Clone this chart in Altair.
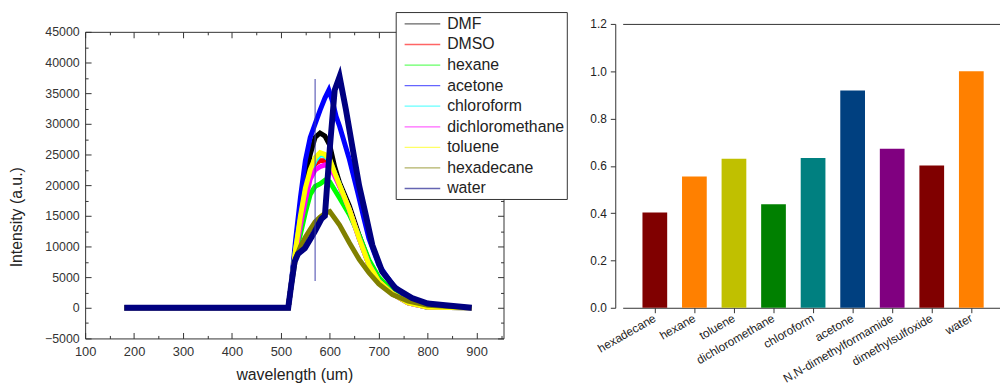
import altair as alt
import pandas as pd

# ---------------- left panel: emission spectra ----------------
series_names = ["DMF", "DMSO", "hexane", "acetone", "chloroform",
                "dichloromethane", "toluene", "hexadecane", "water"]
series_colors = ["#000000", "#FF0000", "#00FF00", "#0000FF", "#00FFFF",
                 "#FF00FF", "#FFFF00", "#808000", "#000080"]

wl_common = [180, 515, 520, 530, 540, 550, 560, 570, 580, 590, 600, 610,
             620, 640, 660, 680, 700, 728, 760, 800, 890]
dmf = [0, 0, 3000, 10000, 16000, 21000, 25000, 27800, 28500, 28000, 26500,
       23000, 20400, 16600, 11800, 7500, 4800, 2700, 1000, 200, 0]
dmso = [0, 0, 3000, 9200, 14000, 18500, 21800, 23500, 24000, 24000, 23500,
        21800, 19900, 16000, 11300, 7000, 4300, 2300, 800, 100, 0]
hexane = [0, 0, 3000, 8800, 12000, 15500, 18500, 19800, 20200, 20800, 20500,
          19200, 17900, 15200, 11800, 7800, 5000, 2600, 900, 100, 0]
chloroform = [0, 0, 3000, 9400, 14500, 19000, 22000, 24000, 25000, 24800,
              24000, 22000, 20000, 16000, 11300, 7000, 4300, 2300, 800, 100, 0]
dichloromethane = [0, 0, 3000, 9000, 13500, 17500, 21000, 22500, 23000, 23300,
                   23000, 21500, 19800, 16000, 11300, 7000, 4300, 2300, 800, 100, 0]
toluene = [0, 0, 3000, 9500, 15000, 19500, 22500, 24500, 25300, 25000, 24200,
           22000, 20000, 16000, 11300, 7000, 4300, 2300, 800, 100, 0]
hexadecane = [0, 0, 3000, 8000, 10000, 11500, 12800, 14000, 14800, 15400,
              15700, 14600, 13500, 10600, 7900, 5700, 3900, 2150, 1100, 400, 0]

wl_acetone = [180, 515, 520, 530, 540, 550, 560, 570, 580, 590, 598, 606, 613,
              620, 640, 657, 670, 680, 700, 728, 760, 800, 890]
acetone = [0, 0, 3000, 11000, 18000, 24000, 27800, 30000, 32200, 34200, 35500,
           33500, 31200, 29600, 24200, 18800, 14500, 11300, 7000, 3800, 1500, 300, 0]

wl_water = [180, 515, 520, 528, 535, 549, 569, 583, 590, 600, 610, 620, 633,
            647, 660, 674, 687, 707, 734, 768, 800, 836, 890]
water = [0, 0, 3000, 7500, 8800, 9700, 12400, 14500, 15000, 26000, 35500, 37700,
         32300, 25800, 19900, 15000, 10200, 5900, 3200, 1600, 700, 400, 0]

spike_wl = [570]
spike_top = [37300]
spike_bottom = [4350]

x_tick_labels = [100, 200, 300, 400, 500, 600, 700, 800, 900]
x_minor_ticks = [150, 250, 350, 450, 550, 650, 750, 850, 950]
y_tick_labels = [-5000, 0, 5000, 10000, 15000, 20000, 25000, 30000, 35000, 40000, 45000]
y_minor_ticks = [-2500, 2500, 7500, 12500, 17500, 22500, 27500, 32500, 37500, 42500]

# ---------------- right panel: bar chart ----------------
bar_names = ["hexadecane", "hexane", "toluene", "dichloromethane", "chloroform",
             "acetone", "N,N-dimethylformamide", "dimethylsulfoxide", "water"]
bar_values = [0.403, 0.555, 0.630, 0.438, 0.633, 0.919, 0.672, 0.602, 1.0]
bar_colors = ["#800000", "#FF8000", "#C0C000", "#008000", "#008080",
              "#004080", "#800080", "#800000", "#FF8000"]
bar_y_ticks = [0.0, 0.2, 0.4, 0.6, 0.8, 1.0, 1.2]

# ---------------- build tables ----------------
rows = []
series_map = {
    "DMF": (wl_common, dmf), "DMSO": (wl_common, dmso), "hexane": (wl_common, hexane),
    "acetone": (wl_acetone, acetone), "chloroform": (wl_common, chloroform),
    "dichloromethane": (wl_common, dichloromethane), "toluene": (wl_common, toluene),
    "hexadecane": (wl_common, hexadecane), "water": (wl_water, water),
}
for name in series_names:
    xs_, ys_ = series_map[name]
    for w, v in zip(xs_, ys_):
        rows.append({"solvent": name, "wavelength": w, "intensity": v})
spec_df = pd.DataFrame(rows)
spike_df = pd.DataFrame({"wavelength": spike_wl, "top": spike_top, "bottom": spike_bottom})
bar_df = pd.DataFrame({"compound": bar_names, "ratio": bar_values})

FONT = "Liberation Sans"
AX = "#333333"

# left panel group is 8px taller than its frame; the frame starts 8px below the group top
LEFT_H = 318
TOP_GAP = 8
xs = alt.Scale(domain=[100, 955], nice=False, zero=False)
ys = alt.Scale(domain=[-5000, 45000], nice=False, zero=False, range=[LEFT_H, TOP_GAP])

color_enc = alt.Color(
    "solvent:N",
    scale=alt.Scale(domain=series_names, range=series_colors),
    legend=alt.Legend(
        title=None, orient="none", legendX=314, legendY=-12,
        fillColor="white", strokeColor=AX, padding=2,
        symbolType="M-0.33,0H3.67", symbolSize=324, symbolStrokeWidth=1.3,
        symbolOpacity=0.6, labelFont=FONT, labelFontSize=16, labelColor="#222222",
        labelOffset=30, rowPadding=2.8, labelLimit=300,
    ),
)

series_layers = []
for name in series_names:
    series_layers.append(
        alt.Chart(spec_df)
        .transform_filter(alt.datum.solvent == name)
        .mark_line(strokeWidth=6 if name == "water" else 5, clip=True)
        .encode(
            x=alt.X("wavelength:Q", scale=xs, axis=None),
            y=alt.Y("intensity:Q", scale=ys, axis=None),
            color=color_enc,
        )
    )

spike_layer = alt.Chart(spike_df).mark_rule(color="#3a3aa8", strokeWidth=1.2, opacity=0.8).encode(
    x=alt.X("wavelength:Q", scale=xs, axis=None),
    y=alt.Y("top:Q", scale=ys, axis=None),
    y2="bottom:Q",
)

dummy = pd.DataFrame({"wavelength": [100], "intensity": [0]})


def axis_layer(xaxis, yaxis):
    return alt.Chart(dummy).mark_point(opacity=0).encode(
        x=alt.X("wavelength:Q", scale=xs, axis=xaxis),
        y=alt.Y("intensity:Q", scale=ys, axis=yaxis),
    )


def tick_axis(values, orient, size, extra=0):
    return alt.Axis(values=values, orient=orient, offset=-(size + extra), tickSize=size,
                    labels=False, domain=False, grid=False, title=None,
                    tickColor=AX, tickWidth=1)


def line_axis(orient, off):
    return alt.Axis(orient=orient, offset=off, ticks=False, labels=False, domain=True,
                    domainColor=AX, domainWidth=1, grid=False, title=None)


label_layer = axis_layer(
    alt.Axis(values=x_tick_labels, orient="bottom", ticks=False, domain=True, domainColor=AX,
             grid=False, format="d", labelFont=FONT, labelFontSize=13, labelColor=AX,
             labelPadding=7, labelFlush=False, labelOverlap=False,
             title="wavelength (um)", titleFont=FONT, titleFontSize=16,
             titleFontWeight="normal", titleColor="#222222", titlePadding=9),
    alt.Axis(values=y_tick_labels, orient="left", ticks=False, domain=True, domainColor=AX,
             grid=False, format="d", labelFont=FONT, labelFontSize=12.5, labelColor=AX,
             labelPadding=6, labelFlush=False, labelOverlap=False,
             title="Intensity (a.u.)", titleFont=FONT, titleFontSize=16,
             titleFontWeight="normal", titleColor="#222222", titlePadding=20, titleY=195),
)

left = alt.layer(
    label_layer,
    axis_layer(line_axis("top", -TOP_GAP), line_axis("right", 0)),
    axis_layer(tick_axis(x_tick_labels, "bottom", 6), tick_axis(y_tick_labels, "left", 6)),
    axis_layer(tick_axis(x_minor_ticks, "bottom", 3), tick_axis(y_minor_ticks, "left", 3)),
    axis_layer(tick_axis(x_tick_labels, "top", 6, TOP_GAP), tick_axis(y_tick_labels, "right", 6)),
    axis_layer(tick_axis(x_minor_ticks, "top", 3, TOP_GAP), tick_axis(y_minor_ticks, "right", 3)),
    *series_layers,
    spike_layer,
).resolve_axis(x="independent", y="independent").properties(
    width=423, height=LEFT_H, view=alt.ViewBackground(stroke="transparent")
)

bx = alt.Scale(domain=bar_names, range=[7.5, 392.5], paddingInner=0.375, paddingOuter=0.5)
by = alt.Scale(domain=[0, 1.2], nice=False, zero=True)

bars = alt.Chart(bar_df).mark_bar().encode(
    x=alt.X("compound:N", sort=bar_names, scale=bx,
            axis=alt.Axis(orient="bottom", labelAngle=330, labelAlign="right",
                          labelBaseline="middle", labelFont=FONT, labelFontSize=12,
                          labelColor="#222222", labelPadding=4, tickSize=5, tickColor=AX,
                          domain=False, grid=False, title=None, labelOverlap=False,
                          labelLimit=300)),
    y=alt.Y("ratio:Q", scale=by,
            axis=alt.Axis(values=bar_y_ticks, format=".1f", orient="left", tickSize=5, tickColor=AX,
                          domain=True, domainColor=AX, grid=False, labelFont=FONT,
                          labelFontSize=12, labelColor="#222222", labelPadding=4, title=None,
                          labelFlush=False, labelOverlap=False)),
    fill=alt.Fill("compound:N", scale=alt.Scale(domain=bar_names, range=bar_colors), legend=None),
)

bar_dummy = pd.DataFrame({"compound": ["hexadecane"], "ratio": [0]})
frame = alt.Chart(bar_dummy).mark_point(opacity=0).encode(
    x=alt.X("compound:N", sort=bar_names, scale=bx, axis=None),
    y=alt.Y("ratio:Q", scale=by,
            axis=alt.Axis(values=[0.0, 1.2], orient="left", grid=True, gridColor=AX, gridOpacity=1,
                          gridWidth=1, labels=False, ticks=False, domain=False, title=None)),
)

right = alt.layer(bars, frame).resolve_axis(x="independent", y="independent").properties(
    width=388, height=287, view=alt.ViewBackground(stroke="transparent")
)

chart = alt.hconcat(left, right, spacing=21).resolve_scale(
    color="independent", fill="independent"
).properties(
    padding={"left": 0, "top": 1, "right": 0, "bottom": 0},
    background="white",
).configure(font=FONT)

chart.save("out.html", embed_options={"renderer": "svg", "actions": False})
